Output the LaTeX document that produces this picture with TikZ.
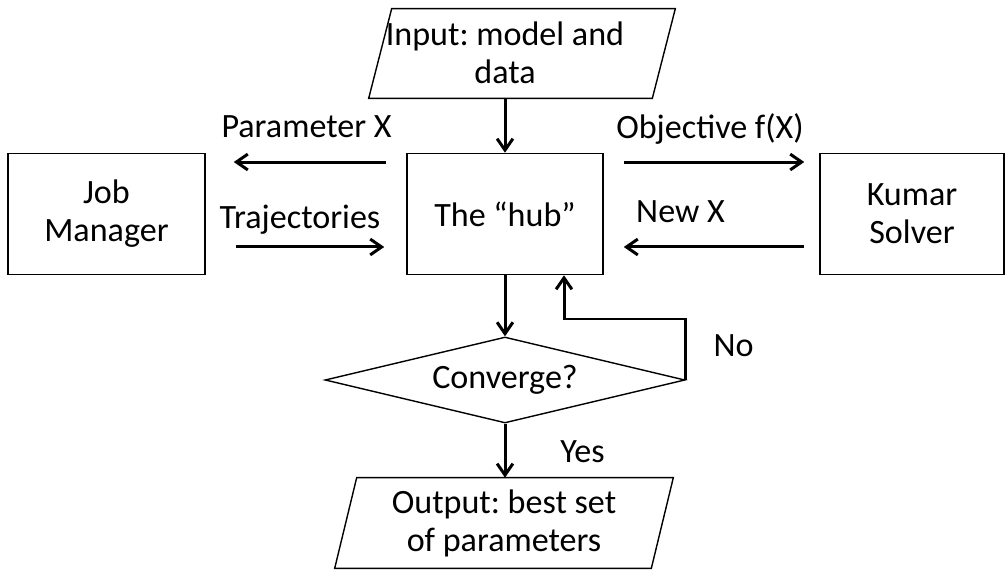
\documentclass[tikz,border=0pt]{standalone}
\usepackage{fontspec}
\setmainfont{Carlito}
\usepackage{tikz}
\usetikzlibrary{arrows.meta,positioning,shapes.geometric,calc}
\frenchspacing

\begin{document}
\begin{tikzpicture}[
    x=0.02cm, y=-0.02cm,
    >={Straight Barb[length=6.5pt,width=9pt]},
    txt/.style={font=\fontsize{19.4}{21.6}\selectfont, align=center, inner sep=0pt},
    block/.style={rectangle, draw, line width=0.9pt, minimum height=2.42cm,
                  minimum width=3.92cm, txt},
    frame/.style={rectangle, txt},
    slant/.style={line width=0.8pt, line join=miter},
    decision/.style={diamond, draw, line width=0.8pt, aspect=4.2, minimum width=7.2cm,
                     minimum height=1.72cm, txt},
    lbl/.style={txt, anchor=base},
    arr/.style={->, line width=1.7pt}
]
    \useasboundingbox (0,0) rectangle (1006,570);

    % flow down the middle
    \node[frame, minimum width=5.66cm, minimum height=1.78cm] (inbox) at (522,53.5) {};
    \draw[slant] ([xshift=0.23cm]inbox.north west) -- ([xshift=0.23cm]inbox.north east)
        -- ([xshift=-0.23cm]inbox.south east) -- ([xshift=-0.23cm]inbox.south west) -- cycle;
    \node[txt] (input) at (505,53) {Input: model and\\data};
    \node[block] (hub) at (505,214) {The “hub”};
    \node[decision] (conv) at (505,380) {Converge?};
    \node[frame, minimum width=6.32cm, minimum height=1.8cm] (output) at (504,523)
        {Output: best set\\of parameters};
    \draw[slant] ([xshift=0.22cm]output.north west) -- ([xshift=0.22cm]output.north east)
        -- ([xshift=-0.22cm]output.south east) -- ([xshift=-0.22cm]output.south west) -- cycle;

    % the two sides
    \node[block, minimum width=3.94cm] (job) at (106.5,214) {Job\\Manager};
    \node[block, minimum width=3.68cm] (solver) at (912,214) {Kumar\\Solver};

    \draw[arr] (inbox.south -| hub.north) -- (hub.north);
    \draw[arr] (hub) -- (conv);
    \draw[arr] (conv.south) -- (conv.south |- output.north);

    % loop back when not converged
    \coordinate (bend) at (564,319);
    \draw[arr] (conv.east) |- (bend) -- (bend |- hub.south);

    \draw[arr, shorten <=0.4cm, shorten >=0.56cm] ([yshift=1.04cm]hub.west) -- ([yshift=1.04cm]job.east);
    \draw[arr, shorten <=0.6cm, shorten >=0.44cm] ([yshift=-0.66cm]job.east) -- ([yshift=-0.66cm]hub.west);
    \draw[arr, shorten <=0.4cm, shorten >=0.3cm] ([yshift=1.04cm]hub.east) -- ([yshift=1.04cm]solver.west);
    \draw[arr, shorten <=0.3cm, shorten >=0.4cm] ([yshift=-0.66cm]solver.west) -- ([yshift=-0.66cm]hub.east);

    % labels
    \node[lbl] (parx) at (306.5,138) {Parameter X};
    \node[lbl] (traj) at (300,229) {Trajectories};
    \node[lbl] (obj)  at (710,139) {Objective f(X)};
    \node[lbl] (newx) at (680.5,223) {New X};
    \node[lbl] (no)   at (733.5,357) {No};
    \node[lbl] (yes)  at (582.5,462) {Yes};
\end{tikzpicture}
\end{document}
